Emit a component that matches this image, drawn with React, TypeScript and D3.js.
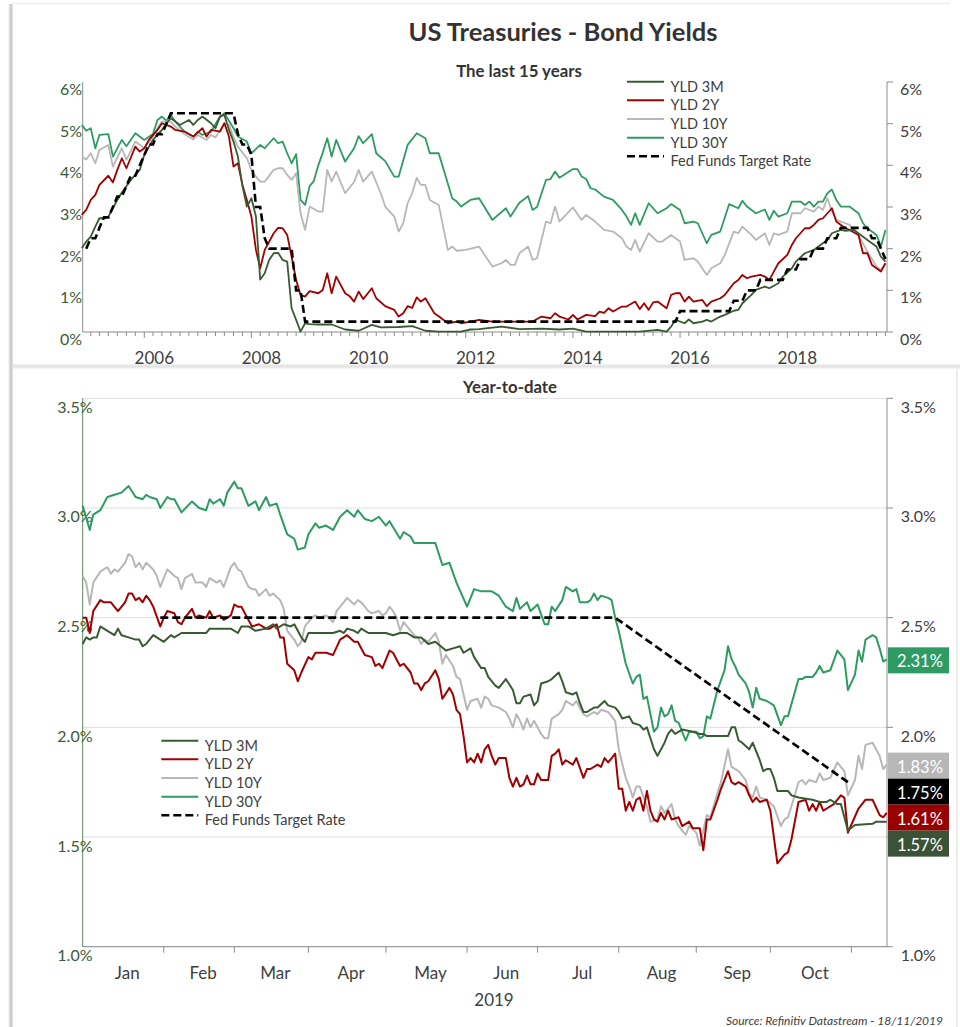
import React from "react";
import * as d3 from "d3";

type MP = [string, number];
type DP = [number, number];

const SERIES = ["YLD 3M", "YLD 2Y", "YLD 10Y", "YLD 30Y", "Fed Funds Target Rate"];
const COLORS = ["#3a5a34", "#a00000", "#b7b7b7", "#2e9b63", "#000000"];

const TITLE = "US Treasuries - Bond Yields";
const SUB_TOP = "The last 15 years";
const SUB_BOT = "Year-to-date";
const SOURCE = "Source: Refinitiv Datastream - 18/11/2019";

const TOP_YTICKS = [0, 1, 2, 3, 4, 5, 6];
const TOP_YEARS = [2006, 2008, 2010, 2012, 2014, 2016, 2018];
const BOT_YTICKS = [1.0, 1.5, 2.0, 2.5, 3.0, 3.5];
const MONTHS = ["Jan", "Feb", "Mar", "Apr", "May", "Jun", "Jul", "Aug", "Sep", "Oct"];
const YEAR_LABEL = "2019";

// ---------- 15-year monthly data ----------
const top3M: MP[] = [["2004-11",2.01],["2004-12",2.17],["2005-01",2.29],["2005-02",2.53],["2005-03",2.73],["2005-04",2.73],["2005-05",2.77],["2005-06",2.97],["2005-07",3.17],["2005-08",3.35],["2005-09",3.5],["2005-10",3.65],["2005-12",3.89],["2006-01",4.25],["2006-03",4.61],["2006-05",4.85],["2006-06",5.01],["2006-07",5.13],["2006-09",4.97],["2006-11",5.09],["2006-12",4.97],["2007-01",5.09],["2007-02",5.17],["2007-04",5.01],["2007-05",4.89],["2007-06",5.17],["2007-07",5.21],["2007-08",4.85],["2007-09",4.57],["2007-10",4.21],["2007-11",3.5],["2007-12",3.01],["2008-01",3.21],["2008-02",2.77],["2008-03",1.26],["2008-04",1.41],["2008-05",1.73],["2008-06",1.89],["2008-07",1.9],["2008-08",1.73],["2008-09",1.69],["2008-10",0.57],["2008-11",0.29],["2008-12",0.01],["2009-01",0.21],["2009-02",0.19],["2009-04",0.18],["2009-07",0.18],["2009-10",0.06],["2010-01",0.03],["2010-04",0.17],["2010-06",0.11],["2010-10",0.12],["2011-01",0.14],["2011-04",0.03],["2011-07",0.01],["2011-12",0.01],["2012-02",0.06],["2012-04",0.07],["2012-09",0.13],["2013-01",0.07],["2013-06",0.08],["2013-10",0.06],["2014-01",0.08],["2014-04",0.01],["2014-10",0.01],["2015-04",0.01],["2015-08",0.05],["2015-10",0.01],["2015-11",0.13],["2015-12",0.29],["2016-02",0.21],["2016-03",0.3],["2016-04",0.21],["2016-06",0.25],["2016-07",0.29],["2016-08",0.25],["2016-10",0.37],["2016-11",0.41],["2017-01",0.51],["2017-02",0.53],["2017-03",0.69],["2017-05",0.89],["2017-06",1.01],["2017-08",1.09],["2017-09",1.05],["2017-11",1.17],["2017-12",1.33],["2018-02",1.53],["2018-03",1.69],["2018-05",1.89],["2018-07",1.97],["2018-08",2.05],["2018-10",2.21],["2018-11",2.37],["2019-01",2.45],["2019-02",2.43],["2019-04",2.45],["2019-05",2.37],["2019-07",2.21],["2019-09",2.05],["2019-10",1.81],["2019-11",1.69]];

const top2Y: MP[] = [["2004-11",2.81],["2004-12",2.93],["2005-01",3.17],["2005-02",3.29],["2005-03",3.53],["2005-05",3.75],["2005-06",3.59],["2005-07",3.89],["2005-08",4.17],["2005-09",3.93],["2005-11",4.45],["2005-12",4.33],["2006-01",4.41],["2006-02",4.61],["2006-04",4.85],["2006-05",5.01],["2006-07",4.93],["2006-08",4.85],["2006-10",4.81],["2006-12",4.69],["2007-02",4.89],["2007-03",4.69],["2007-04",4.85],["2007-06",4.81],["2007-07",5.01],["2007-08",4.69],["2007-09",3.97],["2007-10",4.05],["2007-11",3.53],["2007-12",3.17],["2008-01",2.77],["2008-02",1.97],["2008-03",1.53],["2008-04",1.97],["2008-06",2.37],["2008-07",2.5],["2008-08",2.49],["2008-09",2.33],["2008-10",1.81],["2008-11",1.25],["2008-12",0.89],["2009-01",0.85],["2009-02",0.98],["2009-04",0.93],["2009-05",1.01],["2009-06",1.41],["2009-07",0.93],["2009-08",1.33],["2009-10",0.93],["2009-11",0.86],["2009-12",0.73],["2010-01",0.97],["2010-02",0.79],["2010-04",1.05],["2010-05",0.81],["2010-07",0.62],["2010-09",0.53],["2010-10",0.37],["2010-11",0.45],["2010-12",0.62],["2011-01",0.58],["2011-02",0.83],["2011-03",0.73],["2011-04",0.81],["2011-06",0.45],["2011-07",0.38],["2011-09",0.21],["2011-11",0.25],["2011-12",0.21],["2012-02",0.25],["2012-04",0.29],["2012-07",0.25],["2012-12",0.25],["2013-04",0.25],["2013-06",0.37],["2013-08",0.33],["2013-09",0.45],["2013-10",0.37],["2013-12",0.3],["2014-01",0.41],["2014-02",0.3],["2014-04",0.41],["2014-06",0.38],["2014-07",0.49],["2014-08",0.46],["2014-09",0.57],["2014-10",0.49],["2014-12",0.61],["2015-01",0.61],["2015-03",0.73],["2015-04",0.55],["2015-05",0.69],["2015-06",0.53],["2015-07",0.71],["2015-08",0.73],["2015-10",0.57],["2015-11",0.89],["2015-12",0.93],["2016-01",0.93],["2016-02",0.73],["2016-03",0.85],["2016-04",0.73],["2016-06",0.77],["2016-07",0.62],["2016-08",0.73],["2016-10",0.81],["2016-11",0.89],["2017-01",1.17],["2017-02",1.25],["2017-03",1.37],["2017-04",1.29],["2017-05",1.33],["2017-07",1.37],["2017-08",1.33],["2017-09",1.25],["2017-10",1.45],["2017-11",1.65],["2018-01",1.85],["2018-02",2.09],["2018-03",2.25],["2018-05",2.49],["2018-06",2.49],["2018-07",2.57],["2018-08",2.69],["2018-09",2.73],["2018-11",2.97],["2018-12",2.65],["2019-02",2.49],["2019-03",2.45],["2019-05",2.33],["2019-06",1.89],["2019-07",1.89],["2019-08",1.61],["2019-10",1.45],["2019-11",1.65]];

const top10Y: MP[] = [["2004-11",4.21],["2004-12",4.14],["2005-01",4.29],["2005-02",4.05],["2005-03",4.37],["2005-05",4.49],["2005-06",3.97],["2005-08",4.41],["2005-09",4.13],["2005-11",4.57],["2006-01",4.41],["2006-03",4.69],["2006-04",4.89],["2006-05",5.05],["2006-07",5.05],["2006-08",4.93],["2006-10",4.75],["2006-12",4.62],["2007-01",4.73],["2007-03",4.61],["2007-04",4.73],["2007-05",4.67],["2007-07",5.01],["2007-08",4.97],["2007-09",4.69],["2007-10",4.45],["2007-12",4.17],["2008-01",3.89],["2008-02",3.73],["2008-03",3.61],["2008-04",3.61],["2008-06",3.89],["2008-07",3.93],["2008-08",3.93],["2008-09",3.77],["2008-10",3.65],["2008-11",3.81],["2008-12",2.85],["2009-01",2.45],["2009-02",3.01],["2009-04",2.89],["2009-05",2.89],["2009-06",3.89],["2009-07",3.61],["2009-08",3.85],["2009-10",3.33],["2009-12",3.6],["2010-01",3.89],["2010-02",3.61],["2010-04",3.85],["2010-06",3.33],["2010-07",3.01],["2010-09",2.77],["2010-10",2.41],["2010-11",2.61],["2010-12",3.09],["2011-01",3.33],["2011-02",3.7],["2011-03",3.53],["2011-04",3.53],["2011-05",3.17],["2011-07",3.05],["2011-09",1.97],["2011-10",2.05],["2011-11",1.95],["2012-01",1.97],["2012-04",2.05],["2012-07",1.57],["2012-09",1.65],["2012-10",1.73],["2012-11",1.61],["2012-12",1.61],["2013-01",1.89],["2013-03",2.05],["2013-04",1.73],["2013-05",1.77],["2013-07",2.65],["2013-08",2.61],["2013-09",3.01],["2013-10",2.65],["2014-01",2.99],["2014-03",2.69],["2014-04",2.81],["2014-06",2.65],["2014-08",2.45],["2014-10",2.41],["2014-12",2.25],["2015-01",2.05],["2015-02",1.97],["2015-03",2.21],["2015-04",1.93],["2015-06",2.37],["2015-08",2.17],["2015-09",2.17],["2015-11",2.33],["2016-01",2.17],["2016-02",1.73],["2016-04",1.77],["2016-05",1.69],["2016-07",1.37],["2016-08",1.53],["2016-10",1.65],["2016-11",1.85],["2017-01",2.41],["2017-02",2.37],["2017-03",2.53],["2017-05",2.33],["2017-06",2.21],["2017-08",2.37],["2017-09",2.09],["2017-10",2.37],["2017-11",2.33],["2018-01",2.41],["2018-02",2.85],["2018-04",2.85],["2018-05",2.97],["2018-07",2.89],["2018-08",3.01],["2018-09",2.93],["2018-10",3.21],["2018-11",2.89],["2018-12",2.69],["2019-02",2.61],["2019-03",2.57],["2019-05",2.33],["2019-07",1.93],["2019-09",1.57],["2019-10",1.49],["2019-11",1.65]];

const top30Y: MP[] = [["2004-11",4.97],["2004-12",4.83],["2005-01",4.89],["2005-02",4.41],["2005-03",4.73],["2005-05",4.75],["2005-06",4.21],["2005-08",4.61],["2005-09",4.46],["2005-11",4.77],["2006-01",4.61],["2006-03",4.75],["2006-04",5.09],["2006-05",5.17],["2006-06",5.07],["2006-07",5.21],["2006-08",5.05],["2006-10",4.81],["2006-12",4.69],["2007-01",4.81],["2007-02",4.73],["2007-03",4.77],["2007-04",4.81],["2007-06",5.17],["2007-07",5.25],["2007-09",4.89],["2007-10",4.69],["2007-12",4.57],["2008-01",4.29],["2008-03",4.49],["2008-04",4.41],["2008-05",4.53],["2008-06",4.65],["2008-07",4.53],["2008-08",4.57],["2008-09",4.29],["2008-10",4.05],["2008-11",4.27],["2008-12",3.17],["2009-01",3.05],["2009-02",3.5],["2009-03",3.62],["2009-04",4.0],["2009-05",4.3],["2009-06",4.65],["2009-07",4.21],["2009-08",4.61],["2009-10",4.09],["2009-12",4.41],["2010-01",4.7],["2010-02",4.53],["2010-04",4.75],["2010-05",4.29],["2010-07",4.1],["2010-09",3.73],["2010-10",3.73],["2010-12",4.49],["2011-02",4.77],["2011-04",4.65],["2011-05",4.29],["2011-07",4.29],["2011-10",3.21],["2011-11",3.13],["2011-12",3.01],["2012-02",3.17],["2012-04",3.21],["2012-07",2.69],["2012-10",2.97],["2012-11",2.77],["2013-01",3.1],["2013-03",3.26],["2013-04",2.93],["2013-05",3.0],["2013-07",3.65],["2013-08",3.67],["2013-09",3.85],["2013-10",3.7],["2014-01",3.91],["2014-02",3.91],["2014-03",3.73],["2014-04",3.67],["2014-05",3.45],["2014-06",3.42],["2014-08",3.25],["2014-10",3.17],["2014-12",2.93],["2015-01",2.77],["2015-02",2.57],["2015-03",2.85],["2015-04",2.57],["2015-06",3.09],["2015-08",2.85],["2015-10",2.97],["2015-11",3.07],["2016-01",2.93],["2016-02",2.61],["2016-04",2.65],["2016-05",2.61],["2016-07",2.13],["2016-08",2.33],["2016-10",2.41],["2016-12",3.07],["2017-02",2.97],["2017-03",3.15],["2017-04",3.01],["2017-06",2.85],["2017-08",2.94],["2017-09",2.69],["2017-10",2.91],["2017-11",2.77],["2018-01",2.85],["2018-02",3.13],["2018-04",3.13],["2018-05",3.05],["2018-06",3.13],["2018-07",3.01],["2018-08",3.13],["2018-09",3.13],["2018-10",3.33],["2018-11",3.42],["2018-12",3.17],["2019-01",3.01],["2019-03",3.01],["2019-04",2.93],["2019-05",2.85],["2019-06",2.61],["2019-07",2.49],["2019-09",2.33],["2019-10",2.05],["2019-11",2.45]];

const topFed: MP[] = [["2004-12",2.0],["2005-01",2.25],["2005-02",2.25],["2005-03",2.5],["2005-04",2.75],["2005-05",2.75],["2005-06",3.0],["2005-07",3.25],["2005-08",3.25],["2005-09",3.5],["2005-10",3.75],["2005-11",3.75],["2005-12",4.0],["2006-01",4.25],["2006-02",4.5],["2006-03",4.5],["2006-04",4.75],["2006-05",4.75],["2006-06",5.0],["2006-07",5.25],["2007-09",5.25],["2007-10",4.75],["2007-11",4.5],["2007-12",4.5],["2008-01",4.25],["2008-02",3.0],["2008-03",3.0],["2008-04",2.25],["2008-05",2.0],["2008-10",2.0],["2008-11",1.0],["2008-12",1.0],["2009-01",0.25],["2015-12",0.25],["2016-01",0.5],["2016-12",0.5],["2017-01",0.75],["2017-03",0.75],["2017-04",1.0],["2017-06",1.0],["2017-07",1.25],["2017-12",1.25],["2018-01",1.5],["2018-03",1.5],["2018-04",1.75],["2018-06",1.75],["2018-07",2.0],["2018-09",2.0],["2018-10",2.25],["2018-12",2.25],["2019-01",2.5],["2019-07",2.5],["2019-08",2.25],["2019-09",2.25],["2019-10",2.0],["2019-11",1.75]];

// ---------- Year-to-date data: [weekday number since 1 Jan 2019, yield] ----------
const ytd3M: DP[] = [[0,2.38],[1,2.41],[2,2.4],[3,2.41],[4,2.41],[5,2.46],[7,2.44],[9,2.42],[10,2.45],[11,2.42],[13,2.41],[15,2.4],[16,2.4],[17,2.37],[18,2.38],[20,2.42],[22,2.4],[23,2.39],[25,2.42],[26,2.41],[28,2.43],[30,2.43],[35,2.43],[36,2.45],[40,2.45],[42,2.45],[44,2.43],[45,2.46],[47,2.46],[49,2.44],[52,2.45],[54,2.47],[55,2.45],[57,2.47],[59,2.46],[60,2.47],[61,2.44],[62,2.41],[63,2.39],[64,2.43],[67,2.43],[71,2.43],[73,2.44],[74,2.43],[75,2.45],[77,2.44],[78,2.43],[79,2.45],[81,2.43],[84,2.43],[86,2.43],[88,2.42],[90,2.43],[92,2.43],[94,2.41],[96,2.41],[98,2.38],[100,2.39],[103,2.35],[105,2.36],[107,2.37],[108,2.34],[110,2.36],[111,2.32],[113,2.27],[114,2.27],[115,2.23],[117,2.19],[118,2.18],[120,2.22],[122,2.17],[123,2.11],[124,2.11],[125,2.14],[127,2.15],[128,2.1],[129,2.12],[130,2.2],[132,2.21],[133,2.22],[135,2.25],[136,2.21],[137,2.16],[139,2.15],[140,2.16],[141,2.11],[142,2.07],[143,2.07],[145,2.09],[146,2.09],[148,2.12],[149,2.1],[151,2.09],[152,2.07],[153,2.04],[155,2.05],[156,2.02],[158,2.01],[159,1.99],[160,2.0],[162,1.9],[163,1.87],[165,1.93],[166,1.97],[167,1.99],[168,1.97],[170,1.99],[173,1.98],[175,1.97],[176,1.97],[177,1.96],[181,1.96],[183,1.96],[184,2.0],[185,2.0],[186,1.94],[187,1.93],[189,1.9],[190,1.93],[192,1.85],[193,1.8],[194,1.81],[195,1.81],[196,1.77],[197,1.71],[199,1.71],[200,1.71],[201,1.69],[203,1.68],[207,1.67],[209,1.66],[211,1.66],[212,1.67],[214,1.65],[215,1.65],[217,1.53],[219,1.555],[224,1.56],[225,1.57],[228,1.57]];

const ytd2Y: DP[] = [[0,2.5],[1,2.5],[2,2.43],[3,2.53],[5,2.58],[6,2.57],[8,2.57],[10,2.53],[12,2.57],[13,2.61],[14,2.61],[15,2.58],[16,2.59],[17,2.57],[18,2.6],[19,2.58],[20,2.55],[22,2.46],[23,2.5],[24,2.53],[26,2.52],[27,2.48],[28,2.47],[29,2.5],[31,2.54],[32,2.5],[33,2.51],[35,2.5],[36,2.53],[37,2.5],[39,2.51],[40,2.49],[42,2.51],[43,2.56],[44,2.55],[45,2.55],[47,2.49],[48,2.46],[50,2.47],[52,2.45],[53,2.45],[55,2.47],[56,2.41],[57,2.41],[58,2.29],[60,2.26],[61,2.21],[62,2.25],[64,2.32],[65,2.31],[66,2.34],[69,2.34],[71,2.33],[73,2.4],[75,2.42],[77,2.39],[78,2.39],[80,2.33],[82,2.32],[83,2.28],[84,2.29],[85,2.27],[87,2.35],[88,2.34],[90,2.28],[91,2.29],[93,2.25],[94,2.2],[95,2.2],[96,2.17],[97,2.2],[98,2.21],[100,2.26],[101,2.22],[102,2.13],[104,2.18],[105,2.15],[106,2.08],[107,2.06],[108,1.96],[109,1.84],[110,1.86],[111,1.84],[112,1.88],[113,1.84],[114,1.9],[115,1.92],[116,1.87],[117,1.83],[118,1.86],[120,1.86],[121,1.77],[122,1.73],[123,1.77],[124,1.73],[125,1.74],[126,1.78],[127,1.74],[128,1.74],[129,1.79],[130,1.76],[132,1.76],[133,1.87],[134,1.88],[135,1.9],[136,1.83],[137,1.85],[139,1.83],[140,1.86],[142,1.77],[143,1.81],[144,1.81],[146,1.83],[147,1.82],[148,1.86],[149,1.84],[150,1.86],[151,1.88],[152,1.72],[153,1.72],[154,1.62],[155,1.66],[156,1.62],[157,1.67],[158,1.68],[159,1.62],[160,1.71],[161,1.62],[162,1.58],[163,1.57],[164,1.61],[165,1.58],[166,1.62],[167,1.58],[169,1.59],[170,1.55],[172,1.57],[173,1.54],[175,1.54],[176,1.44],[177,1.58],[178,1.58],[180,1.67],[181,1.72],[183,1.8],[184,1.75],[185,1.74],[186,1.75],[188,1.73],[189,1.69],[190,1.66],[191,1.68],[192,1.66],[194,1.67],[195,1.62],[197,1.38],[199,1.42],[200,1.43],[201,1.49],[203,1.66],[205,1.67],[206,1.62],[207,1.65],[208,1.62],[209,1.66],[210,1.62],[211,1.63],[213,1.65],[215,1.69],[216,1.68],[217,1.52],[220,1.63],[222,1.67],[224,1.67],[226,1.6],[227,1.59],[228,1.61]];

const ytd10Y: DP[] = [[0,2.69],[1,2.66],[2,2.56],[3,2.66],[5,2.71],[7,2.73],[8,2.7],[9,2.72],[10,2.71],[12,2.75],[13,2.79],[14,2.78],[15,2.73],[16,2.75],[17,2.72],[18,2.75],[20,2.72],[21,2.69],[22,2.64],[24,2.72],[26,2.69],[27,2.68],[28,2.63],[29,2.68],[31,2.7],[32,2.66],[34,2.66],[35,2.64],[36,2.68],[38,2.66],[39,2.67],[40,2.64],[42,2.73],[43,2.75],[44,2.72],[45,2.71],[47,2.64],[48,2.63],[49,2.63],[50,2.6],[52,2.63],[53,2.6],[54,2.61],[56,2.58],[57,2.54],[58,2.44],[60,2.4],[61,2.37],[62,2.39],[63,2.46],[65,2.5],[66,2.51],[67,2.5],[69,2.51],[71,2.48],[72,2.53],[74,2.57],[75,2.59],[77,2.56],[78,2.58],[79,2.57],[81,2.53],[82,2.52],[84,2.53],[85,2.51],[86,2.52],[87,2.55],[88,2.53],[89,2.5],[90,2.44],[91,2.48],[92,2.46],[94,2.42],[95,2.41],[96,2.38],[97,2.4],[98,2.39],[100,2.43],[101,2.39],[102,2.29],[103,2.33],[105,2.28],[106,2.23],[107,2.22],[108,2.15],[109,2.08],[110,2.12],[112,2.13],[113,2.09],[114,2.14],[115,2.13],[116,2.1],[118,2.09],[120,2.07],[121,2.04],[122,2.0],[123,2.06],[124,2.03],[125,1.99],[126,2.04],[127,2.0],[128,2.03],[130,1.97],[131,1.95],[132,1.95],[133,2.04],[134,2.05],[135,2.06],[136,2.08],[137,2.12],[139,2.1],[140,2.12],[142,2.06],[143,2.05],[145,2.07],[146,2.06],[147,2.08],[149,2.07],[151,2.03],[152,1.9],[154,1.77],[155,1.73],[156,1.68],[157,1.73],[158,1.73],[160,1.64],[161,1.57],[163,1.58],[164,1.64],[165,1.61],[167,1.65],[168,1.58],[169,1.55],[171,1.51],[172,1.55],[174,1.52],[175,1.46],[177,1.6],[178,1.59],[180,1.7],[181,1.75],[183,1.9],[184,1.82],[186,1.8],[188,1.76],[189,1.7],[190,1.68],[191,1.73],[192,1.68],[194,1.67],[196,1.64],[198,1.55],[199,1.58],[200,1.59],[201,1.64],[203,1.75],[204,1.76],[205,1.74],[206,1.76],[208,1.75],[209,1.79],[210,1.76],[212,1.77],[214,1.84],[216,1.8],[217,1.69],[219,1.76],[220,1.87],[221,1.81],[222,1.92],[224,1.93],[226,1.87],[227,1.81],[228,1.83]];

const ytd30Y: DP[] = [[0,3.01],[2,2.9],[3,2.97],[5,2.99],[7,3.05],[9,3.06],[11,3.07],[13,3.1],[15,3.05],[17,3.04],[18,3.06],[19,3.05],[21,3.04],[22,3.0],[24,3.05],[25,3.04],[26,3.04],[28,2.98],[31,3.03],[33,3.0],[35,2.99],[36,3.04],[37,3.02],[39,3.04],[40,3.01],[41,3.07],[43,3.12],[44,3.09],[45,3.09],[47,3.01],[49,3.03],[50,2.99],[52,3.05],[53,3.01],[55,3.02],[56,2.97],[58,2.88],[60,2.86],[61,2.81],[63,2.82],[64,2.88],[66,2.93],[67,2.91],[69,2.92],[71,2.9],[73,2.96],[75,2.99],[77,2.96],[78,2.99],[80,2.95],[82,2.94],[84,2.96],[86,2.92],[87,2.94],[90,2.86],[91,2.89],[93,2.87],[94,2.84],[95,2.84],[98,2.84],[100,2.84],[102,2.74],[104,2.75],[106,2.66],[109,2.55],[111,2.63],[113,2.62],[114,2.62],[116,2.62],[118,2.6],[120,2.55],[122,2.53],[123,2.59],[124,2.54],[126,2.57],[127,2.53],[129,2.56],[131,2.47],[132,2.47],[133,2.55],[134,2.53],[136,2.58],[137,2.64],[139,2.62],[140,2.63],[141,2.57],[143,2.57],[144,2.58],[145,2.61],[146,2.58],[147,2.6],[149,2.59],[150,2.58],[151,2.5],[152,2.44],[154,2.29],[156,2.2],[157,2.23],[158,2.24],[159,2.13],[160,2.14],[162,1.98],[163,2.0],[164,2.09],[165,2.05],[166,2.06],[167,2.1],[168,2.03],[169,2.02],[171,1.94],[172,1.98],[174,1.98],[175,1.95],[176,1.96],[177,2.05],[178,2.04],[180,2.17],[182,2.26],[183,2.37],[184,2.31],[185,2.28],[186,2.24],[188,2.2],[189,2.16],[190,2.09],[191,2.18],[192,2.13],[194,2.12],[196,2.1],[198,2.01],[199,2.05],[200,2.05],[203,2.22],[204,2.22],[205,2.23],[207,2.23],[208,2.25],[209,2.28],[210,2.25],[212,2.26],[214,2.35],[216,2.31],[217,2.17],[219,2.24],[220,2.35],[221,2.3],[222,2.4],[224,2.42],[225,2.41],[226,2.36],[227,2.3],[228,2.31]];

const ytdFed: DP[] = [[22,2.5],[151,2.5],[217,1.75]];

const FONT = "Lato, 'Open Sans', 'DejaVu Sans', sans-serif";

function parseMonth(s: string): Date {
  const [y, m] = s.split("-").map(Number);
  return new Date(y, m - 1, 1);
}

export default function App() {
  // ---------- scales ----------
  const xTop = d3.scaleTime().domain([new Date(2006, 0, 1), new Date(2018, 0, 1)]).range([144.3, 787.3]);
  const yTop = d3.scaleLinear().domain([0, 6]).range([332, 82]);
  const lTop = d3.line<MP>().x((d) => xTop(parseMonth(d[0]))).y((d) => yTop(d[1]));

  const xBot = d3.scaleLinear().domain([0, 228]).range([82.7, 886.7]);
  const yBot = d3.scaleLinear().domain([1, 3.5]).range([946.7, 398.3]);
  const lBot = d3.line<DP>().x((d) => xBot(d[0])).y((d) => yBot(d[1]));

  const topL = 82.7, topR = 887;
  const botL = 82.7, botR = 887;

  // month starts (weekday count) for 2019
  const monthStarts: number[] = [];
  {
    let idx = 0;
    let cur = -1;
    let d = new Date(2019, 0, 1);
    const end = new Date(2019, 10, 16);
    while (d < end) {
      const wd = d.getDay();
      if (wd !== 0 && wd !== 6) {
        if (d.getMonth() !== cur) {
          monthStarts.push(idx);
          cur = d.getMonth();
        }
        idx++;
      }
      d = d3.timeDay.offset(d, 1);
    }
  }

  const topTicks = d3.timeMonth.every(2)!.range(new Date(2005, 0, 1), new Date(2019, 11, 1));

  const topSeries: MP[][] = [top3M, top2Y, top10Y, top30Y];
  const botSeries: DP[][] = [ytd3M, ytd2Y, ytd10Y, ytd30Y];
  const drawOrder = [3, 2, 1, 0];

  // end labels
  const endVals = [
    { v: ytd30Y[ytd30Y.length - 1][1], c: COLORS[3] },
    { v: ytd10Y[ytd10Y.length - 1][1], c: COLORS[2] },
    { v: ytdFed[ytdFed.length - 1][1], c: COLORS[4] },
    { v: ytd2Y[ytd2Y.length - 1][1], c: "#990000" },
    { v: ytd3M[ytd3M.length - 1][1], c: "#3a5336" },
  ].sort((a, b) => b.v - a.v);
  const boxH = 26;
  let prevC = -1e9;
  const endBoxes = endVals.map((e) => {
    let cy = yBot(e.v) + 1;
    if (cy < prevC + boxH) cy = prevC + boxH;
    prevC = cy;
    return { ...e, cy };
  });
  const coveredByBox = (ty: number) => endBoxes.some((b) => Math.abs(b.cy - ty) < boxH / 2 + 4);

  const legend = (x0: number, y0: number) =>
    SERIES.map((name, i) => {
      const y = y0 + i * 18.65;
      return (
        <g key={name}>
          <line
            x1={x0}
            x2={x0 + 37}
            y1={y}
            y2={y}
            stroke={COLORS[i]}
            strokeWidth={i === 4 ? 2.6 : 2}
            strokeDasharray={i === 4 ? "8,4" : undefined}
          />
          <text x={x0 + 43.5} y={y + 4.5} fontSize={14.5} fill="#404040" dominantBaseline="central">
            {name}
          </text>
        </g>
      );
    });

  return (
    <svg
      width={960}
      height={1027}
      style={{ position: "absolute", left: 0, top: 0, display: "block", background: "#fff" }}
      fontFamily={FONT}
    >
      <defs>
        <linearGradient id="shadowL" x1="0" x2="1" y1="0" y2="0">
          <stop offset="0" stopColor="#ffffff" />
          <stop offset="0.6" stopColor="#c4c4c4" />
          <stop offset="1" stopColor="#e8e8e8" />
        </linearGradient>
        <linearGradient id="shadowH" x1="0" x2="0" y1="0" y2="1">
          <stop offset="0" stopColor="#f2f2f2" />
          <stop offset="0.5" stopColor="#e2e2e2" />
          <stop offset="1" stopColor="#f7f7f7" />
        </linearGradient>
      </defs>
      <rect x={0} y={0} width={960} height={1027} fill="#fff" />
      {/* frame decorations */}
      <rect x={8} y={4} width={5} height={1023} fill="url(#shadowL)" />
      <line x1={13} x2={950} y1={3.5} y2={3.5} stroke="#eeeeee" strokeWidth={1.5} />
      <rect x={13} y={364} width={947} height={5} fill="url(#shadowH)" />
      <line x1={957} x2={957} y1={369} y2={1027} stroke="#e6e6e6" strokeWidth={1.5} />

      {/* titles */}
      <text x={563} y={31} textAnchor="middle" dominantBaseline="central" fontSize={25.5} fontWeight={700} fill="#333">
        {TITLE}
      </text>
      <text x={519} y={70} textAnchor="middle" dominantBaseline="central" fontSize={16.8} fontWeight={700} fill="#333">
        {SUB_TOP}
      </text>
      <text x={510} y={386} textAnchor="middle" dominantBaseline="central" fontSize={16.8} fontWeight={700} fill="#333">
        {SUB_BOT}
      </text>

      {/* ================= TOP CHART ================= */}
      <g>
        <line x1={topL} x2={topL} y1={yTop(6)} y2={yTop(0)} stroke="#8c8c8c" strokeWidth={1} />
        <line x1={topR} x2={topR} y1={yTop(6)} y2={yTop(0)} stroke="#8c8c8c" strokeWidth={1} />
        <line x1={topL} x2={topR} y1={yTop(0)} y2={yTop(0)} stroke="#8c8c8c" strokeWidth={1} />
        {TOP_YTICKS.map((v) => (
          <g key={"ty" + v}>
            <line x1={topR} x2={topR + 6} y1={yTop(v)} y2={yTop(v)} stroke="#8c8c8c" />
            <text x={82} y={yTop(v) + 6.5} textAnchor="end" dominantBaseline="central" fontSize={16} fill="#3c5a3c">
              {v + "%"}
            </text>
            <text x={900} y={yTop(v) + 6.5} textAnchor="start" dominantBaseline="central" fontSize={16} fill="#404040">
              {v + "%"}
            </text>
          </g>
        ))}
        {topTicks.map((t, i) => {
          const major = t.getMonth() === 0 && t.getFullYear() % 2 === 0;
          return (
            <line
              key={"tx" + i}
              x1={xTop(t)}
              x2={xTop(t)}
              y1={yTop(0)}
              y2={yTop(0) + (major ? 6 : 4)}
              stroke="#8c8c8c"
            />
          );
        })}
        {TOP_YEARS.map((yr) => (
          <text key={"yr" + yr} x={xTop(new Date(yr, 0, 1)) + 10} y={357} textAnchor="middle" dominantBaseline="central" fontSize={17} fill="#404040">
            {yr}
          </text>
        ))}
        {drawOrder.map((i) => (
          <path key={"tl" + i} d={lTop(topSeries[i]) || ""} fill="none" stroke={COLORS[i]} strokeWidth={1.8} strokeLinejoin="round" />
        ))}
        <path d={lTop(topFed) || ""} fill="none" stroke="#000" strokeWidth={2.6} strokeDasharray="8,4" />
        {legend(627, 81.7)}
      </g>

      {/* ================= BOTTOM CHART ================= */}
      <g>
        {BOT_YTICKS.map((v) => (
          <line key={"g" + v} x1={botL} x2={botR} y1={yBot(v)} y2={yBot(v)} stroke="#bdbdbd" strokeWidth={1} strokeDasharray="1,1" />
        ))}
        <line x1={botL} x2={botR} y1={yBot(1)} y2={yBot(1)} stroke="#8c8c8c" strokeWidth={1} />
        <line x1={botL} x2={botL} y1={yBot(3.5)} y2={yBot(1)} stroke="#5b8a55" strokeWidth={1} />
        <line x1={botR} x2={botR} y1={yBot(3.5)} y2={yBot(1)} stroke="#8c8c8c" strokeWidth={1} />
        {BOT_YTICKS.map((v) => (
          <g key={"by" + v}>
            <line x1={botR} x2={botR + 6} y1={yBot(v)} y2={yBot(v)} stroke="#8c8c8c" />
            <text x={92.5} y={yBot(v) + 8} textAnchor="end" dominantBaseline="central" fontSize={16} fill="#3c5a3c">
              {v.toFixed(1) + "%"}
            </text>
            {!coveredByBox(yBot(v) + 8) && (
              <text x={900.7} y={yBot(v) + 8} textAnchor="start" dominantBaseline="central" fontSize={16} fill="#404040">
                {v.toFixed(1) + "%"}
              </text>
            )}
          </g>
        ))}
        {monthStarts.slice(1).map((m) => (
          <line key={"mt" + m} x1={xBot(m)} x2={xBot(m)} y1={yBot(1)} y2={yBot(1) + 6} stroke="#8c8c8c" />
        ))}
        {MONTHS.map((name, i) => (
          <text
            key={name}
            x={(xBot(monthStarts[i]) + xBot(monthStarts[i + 1])) / 2 + 4}
            y={972.7}
            textAnchor="middle"
            dominantBaseline="central"
            fontSize={17}
            fill="#404040"
          >
            {name}
          </text>
        ))}
        <text x={494} y={999} textAnchor="middle" dominantBaseline="central" fontSize={17} fill="#404040">
          {YEAR_LABEL}
        </text>
        {drawOrder.map((i) => (
          <path key={"bl" + i} d={lBot(botSeries[i]) || ""} fill="none" stroke={COLORS[i]} strokeWidth={2} strokeLinejoin="round" />
        ))}
        <path d={lBot(ytdFed) || ""} fill="none" stroke="#000" strokeWidth={2.7} strokeDasharray="8,4" />
        {legend(161.3, 740.7)}
        {endBoxes.map((b) => (
          <g key={"eb" + b.v}>
            <rect x={888} y={b.cy - boxH / 2} width={61} height={boxH} fill={b.c} />
            <text x={920} y={b.cy + 1} textAnchor="middle" dominantBaseline="central" fontSize={16.5} fill="#fff">
              {b.v.toFixed(2) + "%"}
            </text>
          </g>
        ))}
      </g>

      <text x={943} y={1020} textAnchor="end" dominantBaseline="central" fontSize={12} fontStyle="italic" fill="#404040">
        {SOURCE}
      </text>
    </svg>
  );
}
